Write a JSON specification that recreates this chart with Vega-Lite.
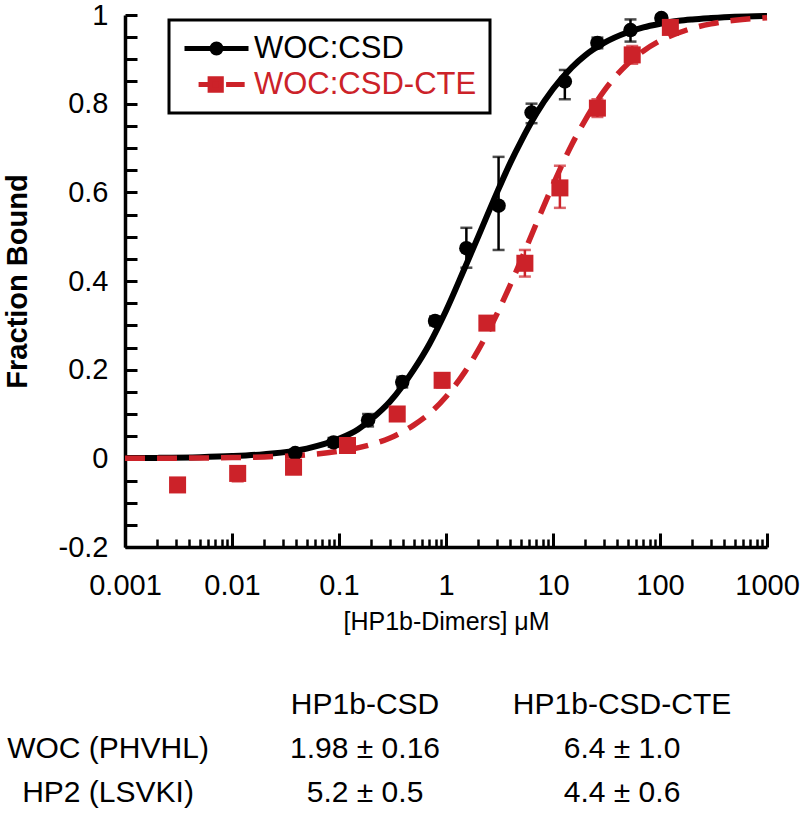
{
  "$schema": "https://vega.github.io/schema/vega-lite/v6.json",
  "width": 642,
  "height": 532,
  "autosize": {"type": "none"},
  "padding": {"left": 125, "top": 15, "right": 33, "bottom": 285},
  "background": "white",
  "config": {
    "view": {"stroke": null},
    "font": "Liberation Sans",
    "axis": {"grid": false, "labelColor": "black", "titleColor": "black", "tickColor": "black", "domainColor": "black"}
  },
  "datasets": {
    "curves": [
      {"series": "WOC:CSD", "x": 0.001, "y": 0.0005},
      {"series": "WOC:CSD", "x": 0.002, "y": 0.001},
      {"series": "WOC:CSD", "x": 0.005, "y": 0.0025},
      {"series": "WOC:CSD", "x": 0.01, "y": 0.005},
      {"series": "WOC:CSD", "x": 0.02, "y": 0.0095},
      {"series": "WOC:CSD", "x": 0.05, "y": 0.022},
      {"series": "WOC:CSD", "x": 0.1, "y": 0.044},
      {"series": "WOC:CSD", "x": 0.15, "y": 0.065},
      {"series": "WOC:CSD", "x": 0.2, "y": 0.088},
      {"series": "WOC:CSD", "x": 0.3, "y": 0.128},
      {"series": "WOC:CSD", "x": 0.5, "y": 0.2},
      {"series": "WOC:CSD", "x": 0.7, "y": 0.258},
      {"series": "WOC:CSD", "x": 1, "y": 0.333},
      {"series": "WOC:CSD", "x": 1.5, "y": 0.43},
      {"series": "WOC:CSD", "x": 2, "y": 0.5},
      {"series": "WOC:CSD", "x": 3, "y": 0.6},
      {"series": "WOC:CSD", "x": 4, "y": 0.667},
      {"series": "WOC:CSD", "x": 5, "y": 0.714},
      {"series": "WOC:CSD", "x": 7, "y": 0.778},
      {"series": "WOC:CSD", "x": 10, "y": 0.833},
      {"series": "WOC:CSD", "x": 15, "y": 0.882},
      {"series": "WOC:CSD", "x": 20, "y": 0.909},
      {"series": "WOC:CSD", "x": 30, "y": 0.937},
      {"series": "WOC:CSD", "x": 50, "y": 0.961},
      {"series": "WOC:CSD", "x": 70, "y": 0.972},
      {"series": "WOC:CSD", "x": 100, "y": 0.98},
      {"series": "WOC:CSD", "x": 150, "y": 0.987},
      {"series": "WOC:CSD", "x": 200, "y": 0.99},
      {"series": "WOC:CSD", "x": 300, "y": 0.993},
      {"series": "WOC:CSD", "x": 500, "y": 0.996},
      {"series": "WOC:CSD", "x": 1000, "y": 0.998},
      {"series": "WOC:CSD-CTE", "x": 0.001, "y": 0.0002},
      {"series": "WOC:CSD-CTE", "x": 0.002, "y": 0.0003},
      {"series": "WOC:CSD-CTE", "x": 0.005, "y": 0.0008},
      {"series": "WOC:CSD-CTE", "x": 0.01, "y": 0.0016},
      {"series": "WOC:CSD-CTE", "x": 0.02, "y": 0.0032},
      {"series": "WOC:CSD-CTE", "x": 0.05, "y": 0.008},
      {"series": "WOC:CSD-CTE", "x": 0.1, "y": 0.016},
      {"series": "WOC:CSD-CTE", "x": 0.2, "y": 0.031},
      {"series": "WOC:CSD-CTE", "x": 0.3, "y": 0.046},
      {"series": "WOC:CSD-CTE", "x": 0.5, "y": 0.075},
      {"series": "WOC:CSD-CTE", "x": 0.7, "y": 0.101},
      {"series": "WOC:CSD-CTE", "x": 1, "y": 0.139},
      {"series": "WOC:CSD-CTE", "x": 1.5, "y": 0.195},
      {"series": "WOC:CSD-CTE", "x": 2, "y": 0.244},
      {"series": "WOC:CSD-CTE", "x": 3, "y": 0.326},
      {"series": "WOC:CSD-CTE", "x": 4, "y": 0.392},
      {"series": "WOC:CSD-CTE", "x": 5, "y": 0.446},
      {"series": "WOC:CSD-CTE", "x": 7, "y": 0.53},
      {"series": "WOC:CSD-CTE", "x": 10, "y": 0.617},
      {"series": "WOC:CSD-CTE", "x": 15, "y": 0.708},
      {"series": "WOC:CSD-CTE", "x": 20, "y": 0.763},
      {"series": "WOC:CSD-CTE", "x": 30, "y": 0.829},
      {"series": "WOC:CSD-CTE", "x": 50, "y": 0.89},
      {"series": "WOC:CSD-CTE", "x": 70, "y": 0.919},
      {"series": "WOC:CSD-CTE", "x": 100, "y": 0.942},
      {"series": "WOC:CSD-CTE", "x": 150, "y": 0.96},
      {"series": "WOC:CSD-CTE", "x": 200, "y": 0.97},
      {"series": "WOC:CSD-CTE", "x": 300, "y": 0.98},
      {"series": "WOC:CSD-CTE", "x": 500, "y": 0.988},
      {"series": "WOC:CSD-CTE", "x": 1000, "y": 0.994}
    ],
    "points": [
      {"series": "WOC:CSD", "x": 0.039, "y": 0.012, "lo": 0.004, "hi": 0.02},
      {"series": "WOC:CSD", "x": 0.089, "y": 0.036, "lo": 0.026, "hi": 0.046},
      {"series": "WOC:CSD", "x": 0.187, "y": 0.086, "lo": 0.072, "hi": 0.1},
      {"series": "WOC:CSD", "x": 0.39, "y": 0.172, "lo": 0.16, "hi": 0.184},
      {"series": "WOC:CSD", "x": 0.79, "y": 0.31, "lo": 0.3, "hi": 0.32},
      {"series": "WOC:CSD", "x": 1.55, "y": 0.474, "lo": 0.43, "hi": 0.52},
      {"series": "WOC:CSD", "x": 3.1, "y": 0.57, "lo": 0.47, "hi": 0.68},
      {"series": "WOC:CSD", "x": 6.3, "y": 0.78, "lo": 0.756, "hi": 0.8},
      {"series": "WOC:CSD", "x": 12.9, "y": 0.85, "lo": 0.81, "hi": 0.876},
      {"series": "WOC:CSD", "x": 26, "y": 0.937, "lo": 0.925, "hi": 0.949},
      {"series": "WOC:CSD", "x": 53, "y": 0.966, "lo": 0.94, "hi": 0.99},
      {"series": "WOC:CSD", "x": 103, "y": 0.993, "lo": 0.985, "hi": 1.0},
      {"series": "WOC:CSD-CTE", "x": 0.0031, "y": -0.06, "lo": -0.07, "hi": -0.045},
      {"series": "WOC:CSD-CTE", "x": 0.0113, "y": -0.034, "lo": -0.052, "hi": -0.018},
      {"series": "WOC:CSD-CTE", "x": 0.0376, "y": -0.02, "lo": -0.035, "hi": -0.005},
      {"series": "WOC:CSD-CTE", "x": 0.12, "y": 0.029, "lo": 0.015, "hi": 0.045},
      {"series": "WOC:CSD-CTE", "x": 0.35, "y": 0.1, "lo": 0.085, "hi": 0.115},
      {"series": "WOC:CSD-CTE", "x": 0.92, "y": 0.176, "lo": 0.16, "hi": 0.19},
      {"series": "WOC:CSD-CTE", "x": 2.41, "y": 0.305, "lo": 0.29, "hi": 0.32},
      {"series": "WOC:CSD-CTE", "x": 5.46, "y": 0.44, "lo": 0.41, "hi": 0.47},
      {"series": "WOC:CSD-CTE", "x": 11.6, "y": 0.61, "lo": 0.565, "hi": 0.66},
      {"series": "WOC:CSD-CTE", "x": 26, "y": 0.79, "lo": 0.77, "hi": 0.81},
      {"series": "WOC:CSD-CTE", "x": 55, "y": 0.91, "lo": 0.89, "hi": 0.93},
      {"series": "WOC:CSD-CTE", "x": 125, "y": 0.972, "lo": 0.962, "hi": 0.985}
    ],
    "table": [
      {"row": 0, "col": 1, "label": "HP1b-CSD"},
      {"row": 0, "col": 2, "label": "HP1b-CSD-CTE"},
      {"row": 1, "col": 0, "label": "WOC (PHVHL)"},
      {"row": 1, "col": 1, "label": "1.98 ± 0.16"},
      {"row": 1, "col": 2, "label": "6.4 ± 1.0"},
      {"row": 2, "col": 0, "label": "HP2 (LSVKI)"},
      {"row": 2, "col": 1, "label": "5.2 ± 0.5"},
      {"row": 2, "col": 2, "label": "4.4 ± 0.6"}
    ]
  },
  "layer": [
    {
      "data": {"name": "curves"},
      "transform": [{"filter": "datum.series === 'WOC:CSD'"}],
      "mark": {"type": "line", "strokeWidth": 6, "interpolate": "monotone"},
      "encoding": {
        "x": {
          "field": "x", "type": "quantitative",
          "scale": {"type": "log", "domain": [0.001, 1000], "nice": false},
          "axis": {
            "orient": "bottom",
            "values": [0.001, 0.01, 0.1, 1, 10, 100, 1000],
            "labelExpr": "'' + datum.value",
            "tickSize": -14, "tickWidth": 3, "domainWidth": 3.5,
            "labelFont": "Liberation Sans", "labelFontSize": 29, "labelPadding": 38,
            "labelFlush": false, "labelOverlap": false,
            "title": "[HP1b-Dimers] μM", "titleFont": "Liberation Sans", "titleFontSize": 25, "titleFontWeight": "normal", "titlePadding": 9
          }
        },
        "y": {
          "field": "y", "type": "quantitative",
          "scale": {"domain": [-0.2, 1], "nice": false, "zero": false},
          "axis": {
            "orient": "left",
            "values": [-0.2, -0.15, -0.1, -0.05, 0, 0.05, 0.1, 0.15, 0.2, 0.25, 0.3, 0.35, 0.4, 0.45, 0.5, 0.55, 0.6, 0.65, 0.7, 0.75, 0.8, 0.85, 0.9, 0.95, 1],
            "labelExpr": "abs(round(datum.value*20)) % 4 == 0 ? '' + datum.value : ''",
            "tickSize": -12, "tickWidth": 3, "domainWidth": 3.5,
            "labelFont": "Liberation Sans", "labelFontSize": 29, "labelPadding": 29,
            "labelOverlap": false, "labelFlush": false,
            "title": "Fraction Bound", "titleFont": "Liberation Sans", "titleFontSize": 29, "titleFontWeight": "bold", "titlePadding": 26
          }
        },
        "color": {
          "field": "series", "type": "nominal",
          "scale": {"domain": ["WOC:CSD", "WOC:CSD-CTE"], "range": ["black", "#cc2229"]},
          "legend": {
            "title": null, "orient": "none", "legendX": 44, "legendY": 5,
            "strokeColor": "black", "padding": 13, "fillColor": "white",
            "labelFont": "Liberation Sans", "labelFontSize": 31, "labelOffset": 3, "labelLimit": 0,
            "symbolSize": 4096, "clipHeight": 31, "rowPadding": 4, "symbolStrokeWidth": 5,
            "encode": {
              "legend": {"update": {"strokeWidth": {"value": 3}}},
              "labels": {"update": {"fill": {"signal": "datum.value === 'WOC:CSD' ? 'black' : '#cc2229'"}}},
              "symbols": {"update": {
                "shape": {"signal": "datum.value === 'WOC:CSD' ? 'M-1,0H1M-0.14,0A0.14,0.14 0 1,0 0.14,0A0.14,0.14 0 1,0 -0.14,0Z' : 'M-0.56,0H-0.25M-0.2,-0.18H0.15V0.18H-0.2ZM0.3,0H0.88'"},
                "fill": {"signal": "datum.value === 'WOC:CSD' ? 'black' : '#cc2229'"},
                "stroke": {"signal": "datum.value === 'WOC:CSD' ? 'black' : '#cc2229'"},
                "strokeWidth": {"value": 5},
                "opacity": {"value": 1}
              }}
            }
          }
        }
      }
    },
    {
      "data": {"name": "curves"},
      "transform": [{"filter": "datum.series === 'WOC:CSD-CTE'"}],
      "mark": {"type": "line", "strokeWidth": 5.5, "strokeDash": [20, 12], "interpolate": "monotone"},
      "encoding": {
        "x": {
          "field": "x", "type": "quantitative",
          "scale": {"type": "log", "domain": [0.001, 1000], "nice": false},
          "axis": {
            "orient": "bottom",
            "values": [0.002, 0.003, 0.004, 0.005, 0.006, 0.007, 0.008, 0.009, 0.02, 0.03, 0.04, 0.05, 0.06, 0.07, 0.08, 0.09, 0.2, 0.3, 0.4, 0.5, 0.6, 0.7, 0.8, 0.9, 2, 3, 4, 5, 6, 7, 8, 9, 20, 30, 40, 50, 60, 70, 80, 90, 200, 300, 400, 500, 600, 700, 800, 900],
            "tickSize": -8, "tickWidth": 2.5, "domain": false, "labels": false, "title": null
          }
        },
        "y": {"field": "y", "type": "quantitative", "scale": {"domain": [-0.2, 1], "nice": false, "zero": false}, "axis": null},
        "color": {"field": "series", "type": "nominal", "scale": {"domain": ["WOC:CSD", "WOC:CSD-CTE"], "range": ["black", "#cc2229"]}}
      }
    },
    {
      "data": {"name": "points"},
      "transform": [{"filter": "datum.series === 'WOC:CSD'"}],
      "mark": {"type": "errorbar", "color": "black", "thickness": 2.5, "size": 12, "ticks": true},
      "encoding": {
        "x": {"field": "x", "type": "quantitative", "scale": {"type": "log", "domain": [0.001, 1000], "nice": false}, "axis": null},
        "y": {"field": "lo", "type": "quantitative", "scale": {"domain": [-0.2, 1], "nice": false, "zero": false}, "axis": null},
        "y2": {"field": "hi"}
      }
    },
    {
      "data": {"name": "points"},
      "transform": [{"filter": "datum.series === 'WOC:CSD'"}],
      "mark": {"type": "point", "shape": "circle", "filled": true, "size": 210, "color": "black", "opacity": 1},
      "encoding": {
        "x": {"field": "x", "type": "quantitative", "scale": {"type": "log", "domain": [0.001, 1000], "nice": false}, "axis": null},
        "y": {"field": "y", "type": "quantitative", "scale": {"domain": [-0.2, 1], "nice": false, "zero": false}, "axis": null}
      }
    },
    {
      "data": {"name": "points"},
      "transform": [{"filter": "datum.series === 'WOC:CSD-CTE'"}],
      "mark": {"type": "errorbar", "color": "#cc2229", "thickness": 2.5, "size": 12, "ticks": true},
      "encoding": {
        "x": {"field": "x", "type": "quantitative", "scale": {"type": "log", "domain": [0.001, 1000], "nice": false}, "axis": null},
        "y": {"field": "lo", "type": "quantitative", "scale": {"domain": [-0.2, 1], "nice": false, "zero": false}, "axis": null},
        "y2": {"field": "hi"}
      }
    },
    {
      "data": {"name": "points"},
      "transform": [{"filter": "datum.series === 'WOC:CSD-CTE'"}],
      "mark": {"type": "point", "shape": "square", "filled": true, "size": 290, "color": "#cc2229", "opacity": 1},
      "encoding": {
        "x": {"field": "x", "type": "quantitative", "scale": {"type": "log", "domain": [0.001, 1000], "nice": false}, "axis": null},
        "y": {"field": "y", "type": "quantitative", "scale": {"domain": [-0.2, 1], "nice": false, "zero": false}, "axis": null}
      }
    },
    {
      "data": {"name": "table"},
      "mark": {"type": "text", "font": "Liberation Sans", "fontSize": 30, "align": "center", "baseline": "middle", "color": "black"},
      "encoding": {
        "x": {"field": "col", "type": "quantitative", "scale": {"domain": [0.066, 2.564], "nice": false, "zero": false}, "axis": null},
        "y": {"field": "row", "type": "quantitative", "scale": {"domain": [-15.68, -3.59], "nice": false, "zero": false, "reverse": true}, "axis": null},
        "text": {"field": "label"}
      }
    }
  ],
  "resolve": {"scale": {"x": "independent", "y": "independent"}}
}
